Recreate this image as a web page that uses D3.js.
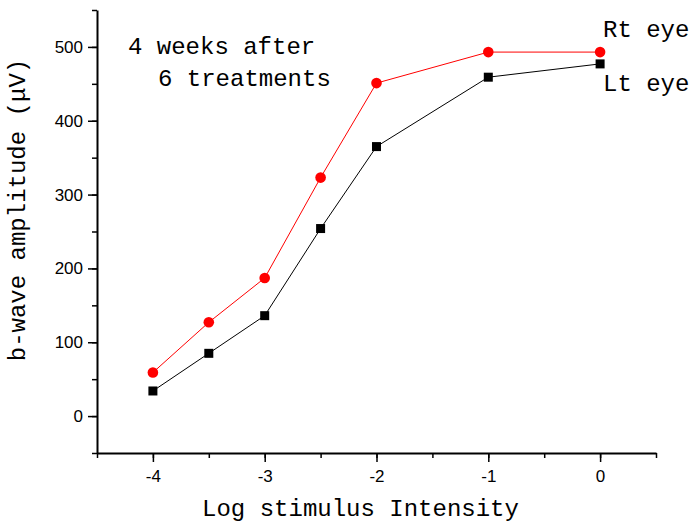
<!DOCTYPE html>
<html>
<meta charset="utf-8">
<script src="https://d3js.org/d3.v7.min.js"></script>
<style>
  body { margin: 0; background: #fff; }
  .tick text { font-family: "Liberation Sans", Arial, sans-serif; font-size: 17px; fill: #000; }
  .mono { font-family: "Liberation Mono", "Courier New", monospace; font-size: 24px; fill: #000; }
</style>
<body>
<div id="chart"></div>
<script>
// data
var intensity = [-4, -3.5, -3, -2.5, -2, -1, 0];
var rtEye = [59, 127, 187, 323, 451, 493, 493];
var ltEye = [34, 85, 136, 254, 365, 459, 477];
var xTicks = [-4, -3, -2, -1, 0];
var yTicks = [0, 100, 200, 300, 400, 500];

var W = 692, H = 525;
var margin = {top: 10, right: 36, bottom: 72, left: 97};
var width = W - margin.left - margin.right,
    height = H - margin.top - margin.bottom;

var svg = d3.select("#chart").append("svg")
    .attr("width", W).attr("height", H)
  .append("g")
    .attr("transform", "translate(" + margin.left + "," + margin.top + ")");

var x = d3.scaleLinear().domain([-4.5, 0.5]).range([0, width]);
var y = d3.scaleLinear().domain([-50, 550]).range([height, 0]);

// minor ticks first, then the labelled ones
svg.append("g")
    .attr("transform", "translate(0," + height + ")")
    .call(d3.axisBottom(x).tickValues(d3.range(-4.5, 0.51, 0.5)).tickSize(5).tickFormat(""))
    .call(function(g) { g.select(".domain").remove(); });
svg.append("g")
    .attr("transform", "translate(0," + height + ")")
    .call(d3.axisBottom(x).tickValues(xTicks).tickSize(9).tickPadding(8).tickSizeOuter(0)
      .tickFormat(function(d) { return String(d); }));  // plain hyphen, not unicode minus

svg.append("g")
    .call(d3.axisLeft(y).tickValues(d3.range(-50, 551, 50)).tickSize(5).tickFormat(""))
    .call(function(g) { g.select(".domain").remove(); });
svg.append("g")
    .call(d3.axisLeft(y).tickValues(yTicks).tickSize(9).tickPadding(5).tickSizeOuter(0));

svg.selectAll(".domain").attr("stroke-width", 2);
svg.selectAll(".tick line").attr("stroke-width", 1.5);

// lines
var line = d3.line()
    .x(function(d) { return x(d[0]); })
    .y(function(d) { return y(d[1]); });

var rt = intensity.map(function(v, i) { return [v, rtEye[i]]; });
var lt = intensity.map(function(v, i) { return [v, ltEye[i]]; });

svg.append("path").datum(lt).attr("d", line)
    .attr("fill", "none").attr("stroke", "#000").attr("stroke-width", 1);
svg.append("path").datum(rt).attr("d", line)
    .attr("fill", "none").attr("stroke", "#ff0000").attr("stroke-width", 1);

svg.selectAll("rect.lt").data(lt).enter().append("rect")
    .attr("class", "lt")
    .attr("x", function(d) { return x(d[0]) - 4.5; })
    .attr("y", function(d) { return y(d[1]) - 4.5; })
    .attr("width", 9).attr("height", 9)
    .attr("fill", "#000");

svg.selectAll("circle.rt").data(rt).enter().append("circle")
    .attr("class", "rt")
    .attr("cx", function(d) { return x(d[0]); })
    .attr("cy", function(d) { return y(d[1]); })
    .attr("r", 5.3)
    .attr("fill", "#ff0000");

// labels
svg.append("text").attr("class", "mono")
    .attr("x", width / 2 - 16).attr("y", height + 63)
    .attr("text-anchor", "middle")
    .text("Log stimulus Intensity");

svg.append("text").attr("class", "mono")
    .attr("transform", "rotate(-90)")
    .attr("x", -(y(0) + y(550)) / 2 + 3).attr("y", -72)
    .attr("text-anchor", "middle")
    .text("b-wave amplitude (\u03bcV)");

svg.append("text").attr("class", "mono")
    .attr("x", 128 - margin.left).attr("y", 54 - margin.top)
    .text("4 weeks after");
svg.append("text").attr("class", "mono")
    .attr("x", 158 - margin.left).attr("y", 86 - margin.top)
    .text("6 treatments");

svg.append("text").attr("class", "mono")
    .attr("x", 603 - margin.left).attr("y", 37 - margin.top)
    .text("Rt eye");
svg.append("text").attr("class", "mono")
    .attr("x", 603 - margin.left).attr("y", 91 - margin.top)
    .text("Lt eye");
</script>
</body>
</html>
